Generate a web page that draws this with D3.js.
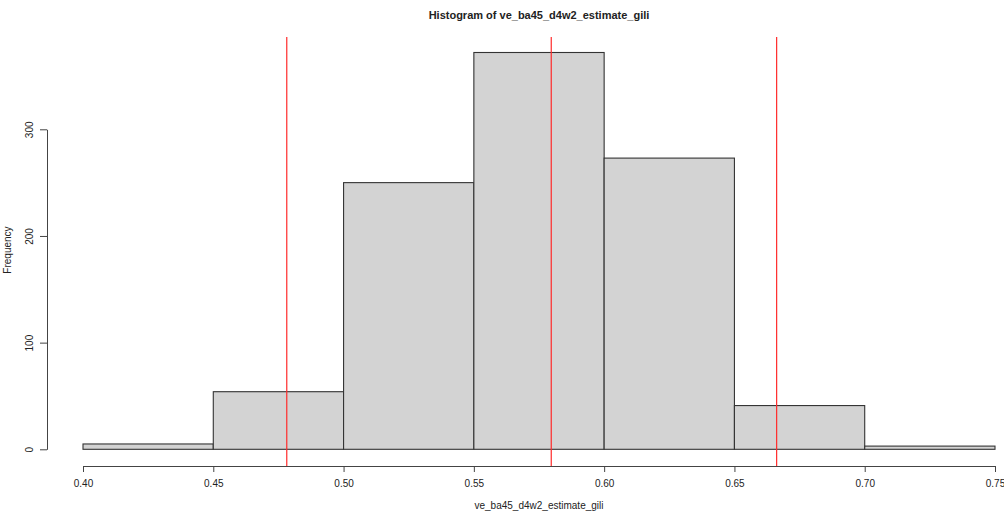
<!DOCTYPE html>
<html><head><meta charset="utf-8">
<script src="https://cdn.jsdelivr.net/npm/d3@7"></script>
<style>body{margin:0;background:#fff}svg{display:block}text{font-family:"Liberation Sans",Arial,sans-serif;fill:#222}</style>
</head><body>
<svg id="c" width="1004" height="512"></svg>
<script>
const binStarts = [0.40,0.45,0.50,0.55,0.60,0.65,0.70];
const binWidth = 0.05;
const counts = [5,54,250,372,273,41,3];
const xTicks = [0.40,0.45,0.50,0.55,0.60,0.65,0.70,0.75];
const yTicks = [0,100,200,300];
const refLines = [0.4782,0.5797,0.6662];
const title = "Histogram of ve_ba45_d4w2_estimate_gili";
const xLabel = "ve_ba45_d4w2_estimate_gili";
const yLabel = "Frequency";

const svg = d3.select("#c");
const x = d3.scaleLinear().domain([0.40,0.75]).range([83,995]);
const y = d3.scaleLinear().domain([0,300]).range([449.3,129.3]);

svg.append("g").selectAll("rect").data(binStarts).join("rect")
  .attr("x", d=>x(d)).attr("width", d=>x(d+binWidth)-x(d))
  .attr("y", (d,i)=>y(counts[i])).attr("height",(d,i)=>y(0)-y(counts[i]))
  .attr("fill","#d3d3d3").attr("stroke","#333").attr("stroke-width",1.1);

svg.append("g").selectAll("line").data(refLines).join("line")
  .attr("x1",d=>x(d)).attr("x2",d=>x(d)).attr("y1",37).attr("y2",466)
  .attr("stroke","#ff2a2a").attr("stroke-width",1.2);

const xa = svg.append("g").attr("transform","translate(0,466)")
  .call(d3.axisBottom(x).tickValues(xTicks).tickFormat(d3.format(".2f")).tickSize(6).tickSizeOuter(0));
xa.select(".domain").attr("stroke","#444");
xa.selectAll(".tick line").attr("stroke","#444");
xa.selectAll("text").attr("font-size",10).attr("dy","1.2em").style("font-family","Liberation Sans, Arial, sans-serif").attr("fill","#222");

const ya = svg.append("g").attr("transform","translate(47,0)")
  .call(d3.axisLeft(y).tickValues(yTicks).tickSize(7).tickSizeOuter(0));
ya.select(".domain").attr("stroke","#444");
ya.selectAll(".tick line").attr("stroke","#444");
ya.selectAll("text").attr("font-size",10).attr("fill","#222")
  .attr("x",0).attr("dy",0).attr("text-anchor","middle")
  .attr("transform","translate(-14,0) rotate(-90)").style("font-family","Liberation Sans, Arial, sans-serif");

svg.append("text").attr("x",539).attr("y",19).attr("text-anchor","middle")
  .attr("font-size",11).attr("font-weight","bold").text(title);
svg.append("text").attr("x",539).attr("y",509).attr("text-anchor","middle")
  .attr("font-size",10).text(xLabel);
svg.append("text").attr("transform","translate(11,250) rotate(-90)").attr("text-anchor","middle")
  .attr("font-size",10).text(yLabel);
</script>
</body></html>
